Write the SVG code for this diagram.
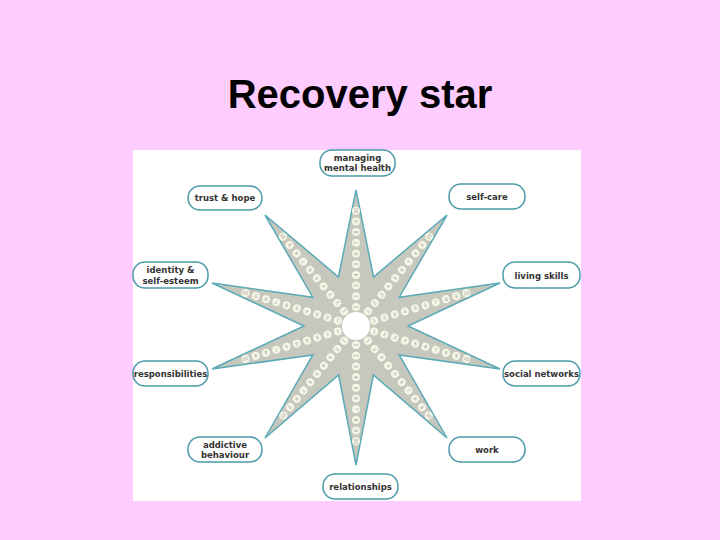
<svg xmlns="http://www.w3.org/2000/svg" xmlns:xlink="http://www.w3.org/1999/xlink" width="720" height="540" viewBox="0 0 720 540">
<style>
.lbl{fill:#fff;stroke:#4a9aa8;stroke-width:1.5}
.t{font-family:"DejaVu Sans",sans-serif;font-weight:bold;font-size:8.5px;fill:#333;text-anchor:middle}
.d{fill:#f6f6e6}
.n{font-family:"Liberation Sans",sans-serif;font-size:5px;fill:#999;text-anchor:middle}
</style>
<defs>
<g id="ray">
<circle class="d" cx="19" cy="0" r="4"/><circle class="d" cx="29.7" cy="0" r="4"/><circle class="d" cx="40.4" cy="0" r="4"/><circle class="d" cx="51.1" cy="0" r="4"/><circle class="d" cx="61.8" cy="0" r="4"/><circle class="d" cx="72.5" cy="0" r="4"/><circle class="d" cx="83.2" cy="0" r="4"/><circle class="d" cx="93.9" cy="0" r="4"/><circle class="d" cx="104.6" cy="0" r="4"/><circle class="d" cx="115.3" cy="0" r="4"/>
<text class="n" x="19" y="1.7">1</text><text class="n" x="29.7" y="1.7">2</text><text class="n" x="40.4" y="1.7">3</text><text class="n" x="51.1" y="1.7">4</text><text class="n" x="61.8" y="1.7">5</text><text class="n" x="72.5" y="1.7">6</text><text class="n" x="83.2" y="1.7">7</text><text class="n" x="93.9" y="1.7">8</text><text class="n" x="104.6" y="1.7">9</text><text class="n" x="115.3" y="1.7">10</text>
</g>
</defs>
<rect width="720" height="540" fill="#ffccff"/>
<text x="360" y="108" font-family="Liberation Sans,Arial,sans-serif" font-weight="bold" font-size="40" text-anchor="middle" fill="#000">Recovery star</text>
<rect x="133" y="150" width="448" height="351" fill="#fff"/>
<g id="star">
<polygon points="356,190 373.5,277 447,215 399.3,297.2 500,283 408,326 500,369 399.2,354.9 447,438 373.4,375 356,465 338.6,375 265,438 312.8,354.9 212,369 304,326 212,283 312.7,297.2 265,215 338.5,277" fill="#c6c7bd" stroke="#5aaab8" stroke-width="1.5" stroke-linejoin="miter"/>
<use xlink:href="#ray" transform="translate(356,326) rotate(-90)"/>
<use xlink:href="#ray" transform="translate(356,326) rotate(-50.7)"/>
<use xlink:href="#ray" transform="translate(356,326) rotate(-16.6)"/>
<use xlink:href="#ray" transform="translate(356,326) rotate(16.6)"/>
<use xlink:href="#ray" transform="translate(356,326) rotate(50.9)"/>
<use xlink:href="#ray" transform="translate(356,326) rotate(90)"/>
<use xlink:href="#ray" transform="translate(356,326) rotate(129.1)"/>
<use xlink:href="#ray" transform="translate(356,326) rotate(163.4)"/>
<use xlink:href="#ray" transform="translate(356,326) rotate(196.6)"/>
<use xlink:href="#ray" transform="translate(356,326) rotate(230.7)"/>
<circle cx="356" cy="326" r="14" fill="#fff"/>
</g>
<g id="n-mmh"><rect class="lbl" x="320" y="150" width="75" height="26" rx="12"/><text class="t" x="357.5" y="160.5">managing</text><text class="t" x="357.5" y="171">mental health</text></g>
<g id="n-trust"><rect class="lbl" x="188" y="186" width="74" height="24" rx="12"/><text class="t" x="225" y="201">trust &amp; hope</text></g>
<g id="n-selfcare"><rect class="lbl" x="449" y="184" width="76" height="25" rx="12"/><text class="t" x="487" y="199.5">self-care</text></g>
<g id="n-identity"><rect class="lbl" x="133" y="262" width="75" height="26" rx="12"/><text class="t" x="170.5" y="273">identity &amp;</text><text class="t" x="170.5" y="283.5">self-esteem</text></g>
<g id="n-living"><rect class="lbl" x="503" y="262" width="77" height="26" rx="12"/><text class="t" x="541.5" y="278.5">living skills</text></g>
<g id="n-resp"><rect class="lbl" x="133" y="361" width="75" height="25" rx="12"/><text class="t" x="170.5" y="376.5">responsibilities</text></g>
<g id="n-social"><rect class="lbl" x="503" y="361" width="77" height="25" rx="12"/><text class="t" x="541.5" y="376.5">social networks</text></g>
<g id="n-addictive"><rect class="lbl" x="188" y="437" width="74" height="25" rx="12"/><text class="t" x="225" y="447.5">addictive</text><text class="t" x="225" y="458">behaviour</text></g>
<g id="n-work"><rect class="lbl" x="449" y="437" width="76" height="25" rx="12"/><text class="t" x="487" y="452.5">work</text></g>
<g id="n-rel"><rect class="lbl" x="323" y="474" width="75" height="25" rx="12"/><text class="t" x="360.5" y="489.5">relationships</text></g>
<g id="connectors"/>
</svg>
